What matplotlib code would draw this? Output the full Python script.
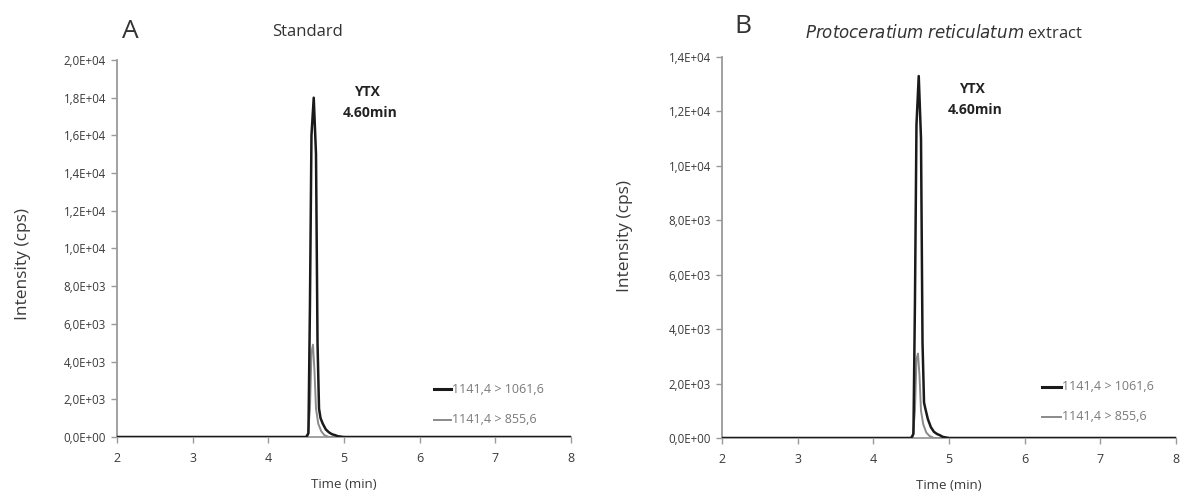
import matplotlib
matplotlib.use("Agg")
import matplotlib.pyplot as plt
from matplotlib.ticker import FuncFormatter, MultipleLocator

plt.rcParams['font.family'] = ['Open Sans', 'DejaVu Sans']

# ---------------- data ----------------
# Panel A : Standard
a_time_q = [2.0, 4.0, 4.50, 4.53, 4.55, 4.57, 4.60, 4.63, 4.65, 4.67, 4.69, 4.72, 4.76, 4.80, 4.84, 4.88, 4.92, 5.0, 6.0, 8.0]
a_int_q = [0, 0, 0, 200, 7000, 16000, 18000, 15000, 5000, 1500, 1000, 700, 400, 250, 150, 100, 40, 0, 0, 0]
a_time_c = [2.0, 4.0, 4.52, 4.55, 4.57, 4.59, 4.61, 4.63, 4.66, 4.70, 4.74, 4.80, 6.0, 8.0]
a_int_c = [0, 0, 0, 1500, 4500, 4900, 3500, 1500, 700, 300, 100, 0, 0, 0]

# Panel B : Protoceratium reticulatum extract
b_time_q = [2.0, 4.0, 4.50, 4.53, 4.55, 4.57, 4.60, 4.63, 4.65, 4.67, 4.69, 4.72, 4.76, 4.80, 4.84, 4.88, 4.92, 5.0, 6.0, 8.0]
b_int_q = [0, 0, 0, 150, 5000, 11500, 13300, 11000, 3500, 1300, 1050, 700, 400, 230, 150, 100, 40, 0, 0, 0]
b_time_c = [2.0, 4.0, 4.52, 4.55, 4.57, 4.59, 4.61, 4.63, 4.66, 4.70, 4.74, 4.80, 6.0, 8.0]
b_int_c = [0, 0, 0, 1000, 2900, 3100, 2300, 1000, 500, 200, 80, 0, 0, 0]

series_labels = ["1141,4 > 1061,6", "1141,4 > 855,6"]
x_ticks = [2, 3, 4, 5, 6, 7, 8]
panel_letters = ["A", "B"]
peak_name = "YTX"
peak_rt = "4.60min"
y_max = [20000, 14000]


def sci_comma(v, pos):
    if v == 0:
        return "0,0E+00"
    s = "%.1E" % v
    mant, exp = s.split("E")
    sign = exp[0]
    e = int(exp[1:])
    return "%sE%s%02d" % (mant.replace(".", ","), sign, e)


W, H = 1184, 499
fig = plt.figure(figsize=(W / 100, H / 100), dpi=100)

axA = fig.add_axes([117 / W, (H - 437) / H, 454 / W, 377 / H])
axB = fig.add_axes([722 / W, (H - 438) / H, 454 / W, 381 / H])

black = "#1a1a1a"
grey = "#8a8a8a"
spine_c = "#9a9a9a"
tick_txt = "#3a3a3a"

data = [
    (axA, a_time_q, a_int_q, a_time_c, a_int_c),
    (axB, b_time_q, b_int_q, b_time_c, b_int_c),
]
ylabel_pos = [(-0.19, 0.46), (-0.195, 0.53)]

for i, (ax, tq, iq, tc, ic) in enumerate(data):
    ax.plot(tc, ic, color=grey, lw=1.4, solid_joinstyle="round", zorder=3)
    ax.plot(tq, iq, color=black, lw=1.8, solid_joinstyle="round", zorder=4)
    ax.set_xlim(2, 8)
    ax.set_ylim(0, y_max[i])
    ax.set_xticks(x_ticks)
    ax.yaxis.set_major_locator(MultipleLocator(2000))
    ax.yaxis.set_major_formatter(FuncFormatter(sci_comma))
    for s in ["top", "right"]:
        ax.spines[s].set_visible(False)
    for s in ["left", "bottom"]:
        ax.spines[s].set_color(spine_c)
        ax.spines[s].set_linewidth(1.3)
    ax.tick_params(axis="both", direction="out", length=4, width=1, color=spine_c,
                   labelcolor=tick_txt)
    ax.tick_params(axis="y", labelsize=8.3, pad=4)
    ax.tick_params(axis="x", labelsize=9, pad=7)
    ax.set_xlabel("Time (min)", fontsize=9.5, color=tick_txt, labelpad=9)
    ax.set_ylabel("Intensity (cps)", fontsize=12.5, color=tick_txt)
    ax.yaxis.set_label_coords(*ylabel_pos[i])

    ym = y_max[i]
    ax.text(0.03 if i == 0 else 0.045, 1.075 if i == 0 else 1.08, panel_letters[i],
            transform=ax.transAxes, fontsize=19, color="#333333", ha="center", va="center")

    ax.text(5.31, ym * 0.915, peak_name, fontsize=10,
            fontweight="bold", color="#222222", ha="center", va="center")
    ax.text(5.35, ym * 0.860, peak_rt, fontsize=10,
            fontweight="bold", color="#222222", ha="center", va="center")

axA.text(0.42, 1.075, "Standard", transform=axA.transAxes, fontsize=12,
         color="#333333", ha="center", va="center")
axB.text(0.49, 1.062, r"$\it{Protoceratium}$ $\it{reticulatum}$ extract",
         transform=axB.transAxes, fontsize=12, color="#333333", ha="center", va="center")

# legends drawn as lines + text in data coords
leg = [
    (axA, [(2546, black, 2.2), (902, grey, 1.4)], 6.19, 6.42),
    (axB, [(1880, black, 2.2), (790, grey, 1.4)], 6.23, 6.48),
]
for ax, rows, x0, x1 in leg:
    for (yv, c, lw), lab in zip(rows, series_labels):
        ax.plot([x0, x1], [yv, yv], color=c, lw=lw, clip_on=False)
        ax.text(x1 + 0.01, yv, lab, fontsize=9, color="#7a7a7a", ha="left", va="center")

fig.savefig("out.png", dpi=100)
